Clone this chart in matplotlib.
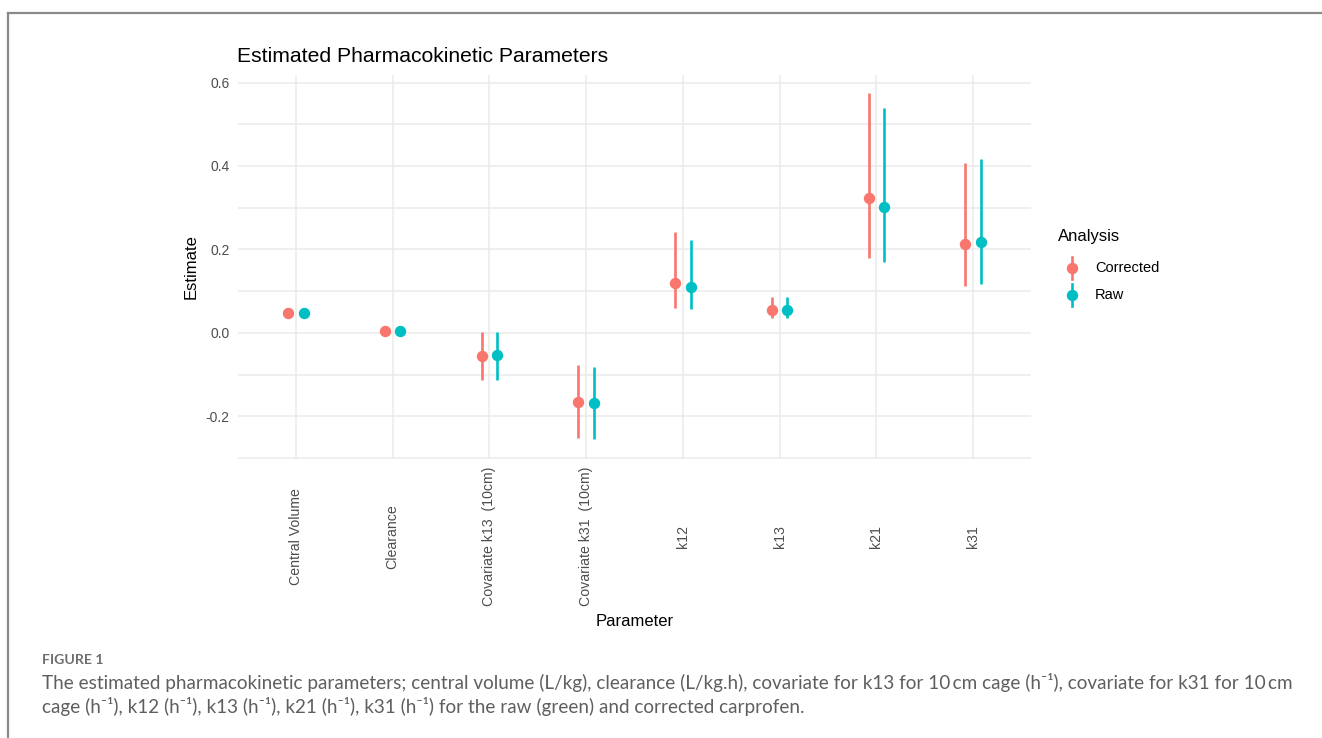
import matplotlib
matplotlib.use("Agg")
import matplotlib.pyplot as plt
import numpy as np
from matplotlib.lines import Line2D

# ---- data ----
parameters = ["Central Volume", "Clearance", "Covariate k13  (10cm)", "Covariate k31  (10cm)",
              "k12", "k13", "k21", "k31"]
corrected_est = [0.047, 0.005, -0.055, -0.165, 0.119, 0.056, 0.323, 0.214]
corrected_lo = [0.044, 0.003, -0.113, -0.252, 0.059, 0.037, 0.179, 0.113]
corrected_hi = [0.050, 0.007, 0.003, -0.077, 0.242, 0.086, 0.575, 0.407]
raw_est = [0.047, 0.005, -0.053, -0.167, 0.110, 0.056, 0.302, 0.219]
raw_lo = [0.044, 0.003, -0.113, -0.255, 0.057, 0.037, 0.169, 0.117]
raw_hi = [0.050, 0.007, 0.003, -0.081, 0.222, 0.086, 0.539, 0.417]
series_names = ["Corrected", "Raw"]
series_colors = ["#F8766D", "#00BFC4"]
yticks = [-0.2, 0.0, 0.2, 0.4, 0.6]
ytick_labels = ["-0.2", "0.0", "0.2", "0.4", "0.6"]

W, H = 1322, 738
fig = plt.figure(figsize=(W / 100, H / 100), dpi=100)

# outer frame of the figure panel
frame_x = 8 / W
frame_y = 1 - 13 / H
fig.add_artist(Line2D([frame_x, 1.0], [frame_y, frame_y], transform=fig.transFigure,
                      color="#8a8a8a", lw=1.6))
fig.add_artist(Line2D([frame_x, frame_x], [0, frame_y], transform=fig.transFigure,
                      color="#8a8a8a", lw=1.6))

left, right, top, bottom = 238, 1031, 75, 459
ax = fig.add_axes([left / W, 1 - bottom / H, (right - left) / W, (bottom - top) / H])

x = np.arange(1, len(parameters) + 1)
dodge = 0.08
series = [(corrected_est, corrected_lo, corrected_hi), (raw_est, raw_lo, raw_hi)]
for i, ((est, lo, hi), name, col) in enumerate(zip(series, series_names, series_colors)):
    xs = x + (-dodge if i == 0 else dodge)
    ax.vlines(xs, lo, hi, color=col, lw=1.9, zorder=3)
    ax.plot(xs, est, "o", color=col, ms=7.2, zorder=4, label=name)

ax.set_xlim(0.4, len(parameters) + 0.6)
ax.set_ylim(-0.302, 0.618)

ax.set_yticks(yticks)
ax.set_yticklabels(ytick_labels)
ax.set_yticks([-0.3, -0.1, 0.1, 0.3, 0.5], minor=True)
ax.set_xticks(x)
ax.set_xticklabels(parameters, rotation=90, va="center", ha="center")

ax.grid(True, which="major", color="#EBEBEB", lw=1.1)
ax.grid(True, which="minor", axis="y", color="#EBEBEB", lw=1.1)
ax.set_axisbelow(True)
for s in ax.spines.values():
    s.set_visible(False)
ax.tick_params(axis="both", which="both", length=0)
ax.tick_params(axis="y", labelsize=10, labelcolor="#4D4D4D", pad=6)
ax.tick_params(axis="x", labelsize=10.2, labelcolor="#4D4D4D", pad=56)
for lab in ax.get_xticklabels() + ax.get_yticklabels():
    lab.set_family("Liberation Sans")

ax.set_ylabel("Estimate", fontsize=12, family="Liberation Sans", color="black", labelpad=5)
fig.text((left + right) / 2 / W - 0.0, 1 - 622 / H, "Parameter", fontsize=12,
         family="Liberation Sans", ha="center", va="center")
fig.text(237 / W, 1 - 57 / H, "Estimated Pharmacokinetic Parameters", fontsize=15.25,
         family="Liberation Sans", ha="left", va="center")

# legend
fig.text(1058 / W, 1 - 237 / H, "Analysis", fontsize=12, family="Liberation Sans",
         ha="left", va="center")
for j, (name, col) in enumerate(zip(series_names, series_colors)):
    yc = 268 + j * 27
    fig.add_artist(Line2D([1072 / W, 1072 / W], [1 - (yc - 11) / H, 1 - (yc + 11) / H],
                          transform=fig.transFigure, color=col, lw=1.9))
    fig.add_artist(Line2D([1072 / W], [1 - yc / H], transform=fig.transFigure, color=col,
                          marker="o", ms=7.2, linestyle="None"))
    fig.text(1095 / W, 1 - yc / H, name, fontsize=10.5, family="Liberation Sans",
             ha="left", va="center")

# caption
cap_fam = ["Lato", "DejaVu Sans"]
fig.text(42 / W, 1 - 660 / H, "FIGURE 1", fontsize=10.2, family=cap_fam, weight="bold",
         color="#6e6e6e", ha="left", va="center")
line1 = ("The estimated pharmacokinetic parameters; central volume (L/kg), clearance (L/kg.h), "
         "covariate for k13 for 10\u2009cm cage (h\u207b\u00b9), covariate for k31 for 10\u2009cm")
line2 = ("cage (h\u207b\u00b9), k12 (h\u207b\u00b9), k13 (h\u207b\u00b9), k21 (h\u207b\u00b9), "
         "k31 (h\u207b\u00b9) for the raw (green) and corrected carprofen.")
fig.text(42 / W, 1 - 683 / H, line1, fontsize=13.6, family=cap_fam, color="#5f5f5f",
         ha="left", va="center")
fig.text(42 / W, 1 - 707 / H, line2, fontsize=13.6, family=cap_fam, color="#5f5f5f",
         ha="left", va="center")

fig.savefig("out.png", dpi=100)
